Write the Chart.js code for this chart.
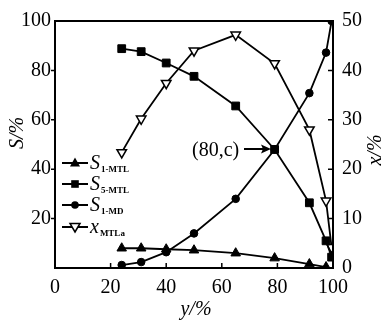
<!DOCTYPE html>
<html>
<head>
<meta charset="utf-8">
<script src="https://cdn.jsdelivr.net/npm/chart.js@4"></script>
<style>
html,body{margin:0;padding:0;background:#fff;}
canvas{display:block;}
</style>
</head>
<body>
<canvas id="c" width="385" height="323"></canvas>
<script>
// y/% (x-axis positions)
const yPct = [24, 31, 40, 50, 65, 79, 91.5, 97.5, 99.5];
// S/% series (left axis)
const S1_MTL = [8, 8, 7.6, 7.2, 6, 4, 1.6, 0.4, null];
const S5_MTL = [88.8, 87.6, 83, 77.6, 65.6, 48, 26.4, 11, 4.4];
const S1_MD = [1.2, 2.4, 6.4, 14, 28, 48, 70.8, 87.2, 100];
// x/% series (right axis)
const X_MTLa = [23.4, 30.2, 37.4, 44, 47.2, 41.4, 28, 13.6, 4.2];

const xTicks = [0, 20, 40, 60, 80, 100];
const leftTicks = [20, 40, 60, 80, 100];
const rightTicks = [0, 10, 20, 30, 40, 50];

const legendItems = [
  {main: 'S', sub: '1-MTL', style: 'triangle'},
  {main: 'S', sub: '5-MTL', style: 'rect'},
  {main: 'S', sub: '1-MD', style: 'circle'},
  {main: 'x', sub: 'MTLa', style: 'invtri'}
];
const annotationText = '(80,c)';

const pts = arr => yPct.map((x, i) => ({x: x, y: arr[i]})).filter(p => p.y !== null);

const serif = "'Liberation Serif', 'DejaVu Serif', serif";

function drawMarker(ctx, style, x, y) {
  ctx.save();
  ctx.lineWidth = 1.5;
  ctx.strokeStyle = '#000';
  ctx.fillStyle = '#000';
  ctx.beginPath();
  if (style === 'triangle') {
    ctx.moveTo(x, y - 5.5); ctx.lineTo(x + 5, y + 3.5); ctx.lineTo(x - 5, y + 3.5); ctx.closePath(); ctx.fill();
  } else if (style === 'rect') {
    ctx.rect(x - 3.8, y - 3.8, 7.6, 7.6); ctx.fill();
  } else if (style === 'circle') {
    ctx.arc(x, y, 3.8, 0, Math.PI * 2); ctx.fill();
  } else {
    ctx.fillStyle = '#fff';
    ctx.moveTo(x, y + 5); ctx.lineTo(x + 5, y - 3.5); ctx.lineTo(x - 5, y - 3.5); ctx.closePath(); ctx.fill(); ctx.stroke();
  }
  ctx.restore();
}

const decor = {
  id: 'decor',
  afterDraw(chart) {
    const ctx = chart.ctx;
    const a = chart.chartArea;
    const sx = chart.scales.x, sl = chart.scales.yL, sr = chart.scales.yR;
    ctx.save();
    ctx.strokeStyle = '#000';
    ctx.lineWidth = 2;
    ctx.strokeRect(a.left, a.top, a.right - a.left, a.bottom - a.top);
    ctx.lineWidth = 1.5;
    ctx.beginPath();
    [20, 40, 60, 80].forEach(v => {
      const px = sx.getPixelForValue(v);
      ctx.moveTo(px, a.bottom); ctx.lineTo(px, a.bottom - 5);
    });
    [20, 40, 60, 80].forEach(v => {
      const py = sl.getPixelForValue(v);
      ctx.moveTo(a.left, py); ctx.lineTo(a.left - 4, py);
    });
    [10, 20, 30, 40].forEach(v => {
      const py = sr.getPixelForValue(v);
      ctx.moveTo(a.right, py); ctx.lineTo(a.right - 5, py);
    });
    ctx.stroke();

    // axis titles
    ctx.fillStyle = '#000';
    ctx.textBaseline = 'middle';
    ctx.textAlign = 'center';
    ctx.font = 'italic 20px ' + serif;
    ctx.save();
    ctx.translate(18, 133);
    ctx.rotate(-Math.PI / 2);
    ctx.fillText('S/%', 0, 0);
    ctx.restore();
    ctx.save();
    ctx.translate(376, 150);
    ctx.rotate(-Math.PI / 2);
    ctx.fillText('x/%', 0, 0);
    ctx.restore();
    ctx.fillText('y/%', 196, 310);

    // legend
    const rows = [163, 184, 205, 227];
    legendItems.forEach((it, i) => {
      const y = rows[i];
      ctx.beginPath();
      ctx.lineWidth = 2;
      ctx.moveTo(62, y); ctx.lineTo(88, y); ctx.stroke();
      drawMarker(ctx, it.style, 75, y);
      ctx.textAlign = 'left';
      ctx.textBaseline = 'alphabetic';
      ctx.font = 'italic 20px ' + serif;
      ctx.fillText(it.main, 90, y + 6);
      const w = ctx.measureText(it.main).width;
      ctx.font = 'bold 9px ' + serif;
      ctx.fillText(it.sub, 90 + w + 1, y + 9);
    });

    // annotation
    ctx.font = '20px ' + serif;
    ctx.textAlign = 'left';
    ctx.textBaseline = 'middle';
    ctx.fillText(annotationText, 192, 151);
    ctx.beginPath();
    ctx.lineWidth = 2;
    ctx.moveTo(244, 149); ctx.lineTo(266, 149); ctx.stroke();
    ctx.beginPath();
    ctx.moveTo(271, 149); ctx.lineTo(261, 144.5); ctx.lineTo(263, 149); ctx.lineTo(261, 153.5); ctx.closePath(); ctx.fill();
    ctx.restore();
  }
};

function ds(label, arr, axis, style) {
  const base = {
    label: label,
    data: pts(arr),
    yAxisID: axis,
    borderColor: '#000',
    borderWidth: 1.8,
    tension: 0,
    pointBorderColor: '#000',
    pointBackgroundColor: '#000',
    pointBorderWidth: 1,
    pointRadius: 5
  };
  if (style === 'triangle') { base.pointStyle = 'triangle'; base.pointRadius = 5.5; }
  if (style === 'rect') { base.pointStyle = 'rect'; base.pointRadius = 5.5; }
  if (style === 'circle') { base.pointStyle = 'circle'; base.pointRadius = 3.8; }
  if (style === 'invtri') { base.pointStyle = 'triangle'; base.rotation = 180; base.pointRadius = 5.5; base.pointBackgroundColor = '#fff'; base.pointBorderWidth = 1.5; }
  return base;
}

new Chart(document.getElementById('c'), {
  type: 'line',
  data: {
    datasets: [
      ds('S1-MTL', S1_MTL, 'yL', 'triangle'),
      ds('S5-MTL', S5_MTL, 'yL', 'rect'),
      ds('S1-MD', S1_MD, 'yL', 'circle'),
      ds('xMTLa', X_MTLa, 'yR', 'invtri')
    ]
  },
  options: {
    responsive: false,
    animation: false,
    layout: {padding: {top: 18, left: 0, right: 0, bottom: 0}},
    plugins: {legend: {display: false}, tooltip: {enabled: false}},
    scales: {
      x: {
        type: 'linear', min: 0, max: 100,
        grid: {display: false, drawTicks: false},
        border: {display: false},
        afterBuildTicks: s => { s.ticks = xTicks.map(v => ({value: v})); },
        afterFit: s => { s.height = 55; },
        ticks: {color: '#000', padding: 8, font: {family: serif, size: 20}}
      },
      yL: {
        type: 'linear', position: 'left', min: 0, max: 100,
        grid: {display: false, drawTicks: false},
        border: {display: false},
        afterBuildTicks: s => { s.ticks = leftTicks.map(v => ({value: v})); },
        afterFit: s => { s.width = 55; },
        ticks: {color: '#000', padding: 4, font: {family: serif, size: 20}}
      },
      yR: {
        type: 'linear', position: 'right', min: 0, max: 50,
        grid: {display: false, drawTicks: false},
        border: {display: false},
        afterBuildTicks: s => { s.ticks = rightTicks.map(v => ({value: v})); },
        afterFit: s => { s.width = 52; },
        ticks: {color: '#000', padding: 9, font: {family: serif, size: 20}}
      }
    }
  },
  plugins: [decor]
});
</script>
</body>
</html>
